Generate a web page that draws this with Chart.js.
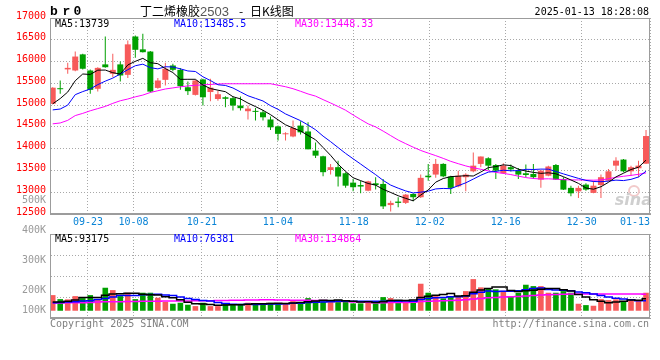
<!DOCTYPE html>
<html>
<head>
<meta charset="utf-8">
<title>br0 日K线图</title>
<script src="https://cdn.jsdelivr.net/npm/chart.js@4.4.1/dist/chart.umd.min.js"></script>
<style>
  html, body { margin: 0; padding: 0; background: #fff; }
  #wrap { position: relative; width: 660px; height: 360px; overflow: hidden; }
  #wrap canvas { position: absolute; left: 0; }
</style>
</head>
<body>
<div id="wrap">
  <canvas id="kline" width="660" height="232" style="top:0"></canvas>
  <canvas id="vol" width="660" height="170" style="top:190px"></canvas>
</div>
<script>
// trading days shown on the chart
const dates = [
  '09-12','09-13','09-18','09-19','09-20','09-23','09-24','09-25','09-26','09-27',
  '09-30','10-08','10-09','10-10','10-11','10-14','10-15','10-16','10-17','10-18',
  '10-21','10-22','10-23','10-24','10-25','10-28','10-29','10-30','10-31','11-01',
  '11-04','11-05','11-06','11-07','11-08','11-11','11-12','11-13','11-14','11-15',
  '11-18','11-19','11-20','11-21','11-22','11-25','11-26','11-27','11-28','11-29',
  '12-02','12-03','12-04','12-05','12-06','12-09','12-10','12-11','12-12','12-13',
  '12-16','12-17','12-18','12-19','12-20','12-23','12-24','12-25','12-26','12-27',
  '12-30','12-31','01-02','01-03','01-06','01-07','01-08','01-09','01-10','01-13'
];
const axisDates = ['09-23','10-08','10-21','11-04','11-18','12-02','12-16','12-30','01-13'];

const openPx = [
  15030,15375,15820,15795,16165,15795,15375,15935,15720,15935,
  15695,16575,16280,16230,15395,15580,15910,15810,15410,15235,
  15590,15300,15140,15180,15160,14990,14860,14860,14835,14670,
  14510,14330,14280,14530,14395,13955,13825,13510,13575,13435,
  13220,13165,13035,13205,13190,12705,12785,12755,12960,12885,
  13380,13405,13650,13360,13135,13345,13480,13650,13780,13625,
  13435,13575,13495,13435,13420,13290,13380,13625,13305,13100,
  13020,13175,12985,13165,13265,13610,13750,13480,13550,13655
];
const closePx = [
  15400,15365,15855,16115,15835,15350,15855,15870,15810,15680,
  16395,16270,16215,15310,15565,15835,15810,15435,15320,15565,
  15180,15400,15250,15145,14990,14930,14920,14845,14720,14490,
  14340,14345,14475,14375,13985,13840,13460,13575,13360,13150,
  13115,13130,13250,13165,12675,12755,12755,12945,12885,13330,
  13345,13650,13365,13100,13380,13405,13610,13820,13610,13495,
  13610,13525,13405,13395,13345,13495,13590,13290,13060,12975,
  13100,13060,13150,13345,13480,13725,13480,13575,13610,14290
];
const highPx = [
  15410,15565,15970,16230,16180,15820,15870,16575,16180,16000,
  16485,16600,16640,16240,15625,15970,15950,15850,15540,15580,
  15605,15605,15330,15205,15195,15195,14990,14935,14890,14740,
  14530,14375,14645,14630,14605,14140,13840,13650,13725,13460,
  13305,13265,13265,13345,13305,12805,12885,12960,12975,13405,
  13650,13765,13665,13380,13495,13435,13910,13820,13805,13650,
  13665,13635,13555,13635,13650,13510,13610,13650,13345,13150,
  13150,13205,13265,13405,13535,13805,13765,13610,13725,14430
];
const lowPx = [
  15020,15260,15720,15780,15820,15260,15310,15855,15640,15540,
  15620,16085,16210,15290,15375,15450,15780,15350,15235,15220,
  14990,15090,15100,14950,14875,14875,14670,14645,14645,14430,
  14185,14185,14260,14325,13985,13785,13365,13405,13130,13100,
  13020,12975,13020,13060,12615,12560,12655,12730,12790,12870,
  13265,13330,13345,12960,13115,13020,13460,13575,13510,13305,
  13420,13475,13305,13345,13305,13100,13365,13280,13050,12905,
  12870,13035,12975,12870,13250,13495,13460,13380,13345,13650
];
const ma5 = [
  15030,15150,15300,15560,15714,15704,15802,15805,15744,15713,
  15922,16005,16074,15974,15951,15839,15747,15591,15593,15593,
  15462,15380,15343,15308,15193,15143,15047,14966,14881,14781,
  14663,14548,14474,14405,14304,14204,14027,13847,13644,13477,
  13332,13266,13201,13162,13067,12995,12920,12859,12803,12934,
  13052,13231,13315,13358,13368,13380,13372,13463,13565,13588,
  13629,13612,13529,13486,13456,13433,13446,13423,13356,13282,
  13203,13097,13069,13126,13227,13352,13436,13521,13574,13736
];
const ma10 = [
  14890,14910,15000,15240,15310,15370,15470,15550,15620,15714,
  15813,15904,15940,15859,15832,15881,15876,15833,15784,15772,
  15651,15564,15467,15451,15393,15303,15214,15155,15095,14987,
  14903,14798,14720,14643,14543,14434,14288,14161,14025,13891,
  13768,13647,13524,13403,13272,13164,13093,13030,12983,13001,
  13024,13076,13087,13081,13151,13216,13302,13389,13462,13478,
  13505,13492,13496,13526,13522,13531,13529,13476,13421,13369,
  13318,13272,13246,13241,13255,13278,13267,13295,13350,13482
];
const ma30 = [
  14570,14590,14650,14760,14810,14870,14920,14970,15040,15100,
  15140,15190,15230,15290,15330,15370,15395,15420,15440,15455,
  15465,15475,15485,15490,15490,15490,15490,15490,15490,15491,
  15456,15422,15376,15318,15256,15206,15126,15049,14968,14883,
  14774,14669,14570,14499,14403,14300,14198,14115,14034,13959,
  13898,13840,13777,13709,13655,13604,13561,13527,13490,13456,
  13432,13405,13369,13336,13315,13304,13308,13298,13288,13283,
  13282,13280,13276,13282,13309,13342,13366,13387,13411,13443
];

const volume = [
  125000,93000,91000,117000,101000,125000,91000,184000,165000,117000,
  144000,93000,144000,144000,104000,72000,56000,64000,48000,37000,
  64000,37000,37000,53000,53000,56000,64000,56000,53000,64000,
  61000,56000,77000,69000,101000,85000,85000,69000,85000,77000,
  59000,59000,77000,59000,109000,101000,72000,72000,72000,216000,
  144000,117000,99000,117000,112000,157000,253000,187000,181000,171000,
  160000,112000,144000,208000,197000,197000,144000,144000,157000,144000,
  56000,45000,40000,93000,85000,91000,77000,85000,80000,144000
];
const volMa5 = [
  69000,69000,75000,85000,105400,105400,105000,123600,133200,136400,
  140200,140600,132600,128400,125800,111400,104000,88000,68800,55400,
  53800,50000,44600,45600,48800,47200,52600,56400,56400,58600,
  59600,58000,62200,65400,72800,77600,83400,81800,85000,80200,
  75000,69800,71400,66200,72600,81000,83600,82600,85200,106600,
  115200,124200,129600,138600,117800,120400,147600,165200,178000,189800,
  190400,162200,153600,159000,164200,171600,178000,178000,167800,157200,
  129000,109200,88000,75200,63400,70400,76800,86000,83400,95200
];
const volMa10 = [
  64000,66000,69000,72000,77000,80000,90000,98000,110000,120900,
  122800,122800,128100,130800,131100,125800,122300,110300,98600,90600,
  82600,77000,66300,57200,52100,50500,51300,50500,51000,53700,
  53400,55300,59300,60900,65700,68600,70700,72000,75200,76500,
  76300,76600,76600,75600,76400,78000,76700,77000,75700,89600,
  98100,103900,106100,111900,112200,117800,135900,147400,158300,153800,
  155400,154900,159400,168500,177000,181000,170100,165800,163400,160700,
  150300,143600,133200,121700,110500,99900,93200,87300,79600,79600
];
const volMa30 = [
  62000,62000,63000,64000,64000,65000,70000,71000,72000,72000,
  73000,74000,75000,76000,76000,77000,77000,78000,78000,79000,
  79000,80000,81000,82000,83000,84000,85000,86000,87000,88400,
  86300,85000,84600,83000,83000,81600,81400,77600,74900,73600,
  70800,69600,67400,64600,64700,65700,66200,66500,67300,73300,
  75900,78600,80700,82800,84800,88100,94400,98800,103100,106600,
  109900,111800,114000,118700,121900,125600,127600,130100,132500,134700,
  134600,134100,132900,134000,133200,132900,133100,133500,133800,131400
];

const priceLegend = ['MA5:13739', 'MA10:13485.5', 'MA30:13448.33'];
const volLegend = ['MA5:93175', 'MA10:76381', 'MA30:134864'];
const volTickValues = [500000, 400000, 300000, 200000, 100000];

// colours
const RED = '#f75a5a';
const GREEN = '#00a000';
const MA_COLORS = ['#000000', '#0000ff', '#ff00ff'];
const GRID = '#a8a8a8';
const FRAME = '#9c9c9c';
const MONO = '10px "DejaVu Sans Mono", monospace';

const barColors = openPx.map((o, i) => closePx[i] >= o ? RED : GREEN);
const gridIdx = axisDates.map(d => dates.lastIndexOf(d));

function lineSet(label, values, color, width, stepped) {
  return {
    type: 'line', label: label,
    data: values.map((v, i) => ({x: i, y: v})),
    borderColor: color, borderWidth: width, pointRadius: 0,
    tension: 0, stepped: stepped || false, xAxisID: 'x', yAxisID: 'y', order: 0
  };
}

function put(ctx, str, x, y, color, font, align) {
  ctx.fillStyle = color;
  ctx.font = font;
  ctx.textAlign = align || 'left';
  ctx.fillText(str, x, y);
}

function drawFrame(chart) {
  const {ctx, chartArea: a} = chart;
  ctx.save();
  ctx.strokeStyle = FRAME;
  ctx.lineWidth = 1;
  ctx.strokeRect(Math.round(a.left) + 0.5, Math.round(a.top) + 0.5,
    Math.round(a.right - a.left) - 1, Math.round(a.bottom - a.top) - 1);
  ctx.restore();
}

function drawLegend(chart, items, baseline) {
  const {ctx, chartArea: a} = chart;
  const offsets = [5, 124, 245];
  ctx.save();
  ctx.textBaseline = 'alphabetic';
  items.forEach((s, k) => put(ctx, s, a.left + offsets[k], a.top + baseline, MA_COLORS[k], MONO));
  ctx.restore();
}

// shared x axes: "x" places the candles, "xg" carries the date grid
function xScales() {
  return {
    x: {type: 'linear', display: false, min: -0.36, max: 79.53, offset: false, grid: {offset: false}},
    xg: {
      type: 'linear', position: 'bottom', min: 0, max: 79, offset: false,
      afterBuildTicks: s => { s.ticks = gridIdx.map(v => ({value: v})); },
      ticks: {display: false},
      grid: {color: GRID, drawTicks: false, offset: false},
      border: {color: FRAME, dash: [1, 2]}
    }
  };
}

const pricePanel = {
  id: 'pricePanel',
  beforeDatasetsDraw(chart) {
    // faint sina watermark
    const {ctx, chartArea: a} = chart;
    ctx.save();
    ctx.strokeStyle = '#f2caca';
    ctx.lineWidth = 2;
    ctx.beginPath();
    ctx.arc(a.right - 16, a.bottom - 23, 5, 0, Math.PI * 2);
    ctx.stroke();
    ctx.textBaseline = 'alphabetic';
    put(ctx, 'sina', a.right + 2, a.bottom - 9, '#cfcfcf', 'italic bold 16px "DejaVu Sans"', 'right');
    ctx.restore();
  },
  afterDraw(chart) {
    const {ctx, chartArea: a} = chart;
    drawFrame(chart);
    ctx.save();
    ctx.textBaseline = 'alphabetic';
    // header: the code is drawn letter by letter, spaced out like the original
    const codeFont = 'bold 13px "Liberation Mono", monospace';
    put(ctx, 'b', 50, 15, '#000', codeFont);
    put(ctx, 'r', 62.5, 15, '#000', codeFont);
    put(ctx, '0', 73.5, 15, '#000', codeFont);
    put(ctx, '丁二烯橡胶', 140, 16, '#000', '12px "Noto Sans CJK SC"');
    put(ctx, '2503', 200, 16, '#555', '13px "Liberation Sans"');
    put(ctx, '-', 239, 16, '#000', '12px "Noto Sans CJK SC"');
    put(ctx, '日K线图', 250, 16, '#000', '12px "Noto Sans CJK SC"');
    put(ctx, '2025-01-13 18:28:08', a.right - 1, 15, '#000', MONO, 'right');
    ctx.restore();
    drawLegend(chart, priceLegend, 9);
    // date labels under the grid lines
    const xs = chart.scales.xg;
    ctx.save();
    ctx.font = MONO;
    ctx.fillStyle = '#0a84d6';
    ctx.textAlign = 'left';
    gridIdx.forEach((idx, k) => {
      const w = ctx.measureText(axisDates[k]).width;
      const left = Math.min(xs.getPixelForValue(idx) - w / 2, a.right - w);
      ctx.fillText(axisDates[k], left, a.bottom + 11);
    });
    ctx.restore();
  }
};

const volPanel = {
  id: 'volPanel',
  afterDraw(chart) {
    const {ctx, chartArea: a} = chart;
    drawFrame(chart);
    drawLegend(chart, volLegend, 8);
    const yl = chart.scales.yl;
    ctx.save();
    ctx.textBaseline = 'middle';
    volTickValues.forEach(v => {
      const y = Math.min(yl.getPixelForValue(v), a.bottom - 8);
      put(ctx, (v / 1000) + 'K', a.left - 4, y, '#9a9a9a', MONO, 'right');
    });
    ctx.textBaseline = 'alphabetic';
    put(ctx, 'Copyright 2025 SINA.COM', a.left, a.bottom + 9, '#808080', MONO);
    put(ctx, 'http://finance.sina.com.cn', a.right - 1, a.bottom + 9, '#808080', MONO, 'right');
    ctx.restore();
  }
};

Chart.defaults.font.family = '"DejaVu Sans Mono", monospace';
Chart.defaults.font.size = 10;

// K-line panel
new Chart(document.getElementById('kline'), {
  type: 'bar',
  data: {
    datasets: [
      lineSet('MA5', ma5, MA_COLORS[0], 1),
      lineSet('MA10', ma10, MA_COLORS[1], 1),
      lineSet('MA30', ma30, MA_COLORS[2], 1),
      {
        label: 'body', data: openPx.map((o, i) => ({x: i, y: [o, closePx[i]]})),
        backgroundColor: barColors, barThickness: 6, minBarLength: 1,
        grouped: false, inflateAmount: 0, xAxisID: 'x', yAxisID: 'y', order: 1
      },
      {
        label: 'wick', data: lowPx.map((l, i) => ({x: i, y: [l, highPx[i]]})),
        backgroundColor: barColors, barThickness: 1,
        grouped: false, inflateAmount: 0, xAxisID: 'x', yAxisID: 'y', order: 2
      }
    ]
  },
  options: {
    responsive: false, animation: false, events: [], devicePixelRatio: 1,
    layout: {padding: {left: 0, right: 10, top: 18, bottom: 18}},
    plugins: {legend: {display: false}, tooltip: {enabled: false}},
    scales: Object.assign(xScales(), {
      y: {
        type: 'linear', position: 'left', min: 12500, max: 17000,
        afterFit: s => { s.width = 50; },
        ticks: {stepSize: 500, color: '#ff0000', padding: 4, labelOffset: -2, callback: v => String(v)},
        grid: {color: GRID, drawTicks: false},
        border: {color: FRAME, dash: [1, 2]}
      }
    })
  },
  plugins: [pricePanel]
});

// volume panel
new Chart(document.getElementById('vol'), {
  type: 'bar',
  data: {
    datasets: [
      lineSet('MA5', volMa5, MA_COLORS[0], 1.5, 'middle'),
      lineSet('MA10', volMa10, MA_COLORS[1], 1.5, 'middle'),
      lineSet('MA30', volMa30, MA_COLORS[2], 1.5, 'middle'),
      {
        label: 'volume', data: volume.map((v, i) => ({x: i, y: v})),
        backgroundColor: barColors, barThickness: 5.6,
        grouped: false, inflateAmount: 0, xAxisID: 'x', yAxisID: 'y', order: 1
      }
    ]
  },
  options: {
    responsive: false, animation: false, events: [], devicePixelRatio: 1,
    layout: {padding: {left: 0, right: 10, top: 44, bottom: 42}},
    plugins: {legend: {display: false}, tooltip: {enabled: false}},
    scales: Object.assign(xScales(), {
      y: {
        type: 'linear', position: 'left', min: -58000, max: 613600,
        afterFit: s => { s.width = 50; },
        afterBuildTicks: s => {
          const step = (s.max - s.min) / 4;
          s.ticks = [0, 1, 2, 3, 4].map(k => ({value: s.min + k * step}));
        },
        ticks: {display: false},
        grid: {color: GRID, drawTicks: false},
        border: {color: FRAME, dash: [1, 2]}
      },
      // label ladder used by the volume tick texts
      yl: {type: 'linear', position: 'left', display: false, min: 106700, max: 386700}
    })
  },
  plugins: [volPanel]
});
</script>
</body>
</html>
